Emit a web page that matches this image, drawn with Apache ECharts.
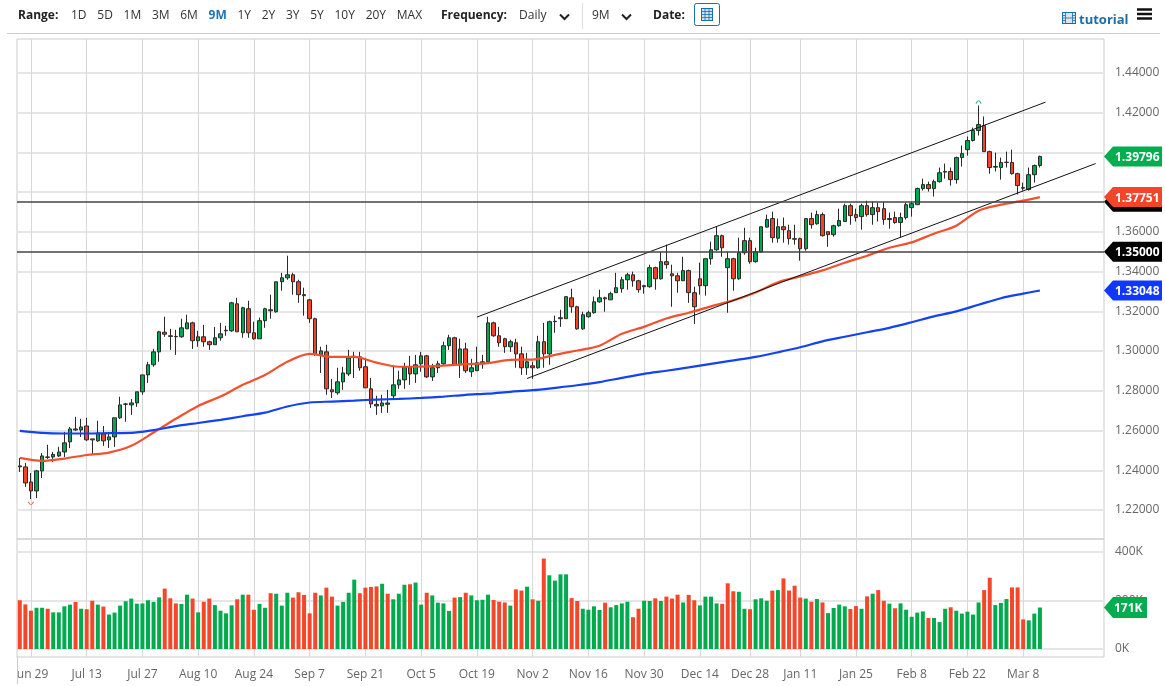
<!DOCTYPE html>
<html>
<head>
<meta charset="utf-8">
<title>Daily chart</title>
<script src="https://cdn.jsdelivr.net/npm/echarts@6/dist/echarts.min.js"></script>
<style>
  html, body { margin: 0; padding: 0; background: #fff; }
  #chart { position: absolute; left: 0; top: 0; width: 1165px; height: 686px; }
  .bar { position: absolute; left: 0; top: 0; width: 1165px; height: 34px; font: 12px "Open Sans", sans-serif; color: #333; z-index: 2; }
  .bar span, .bar svg, .bar i { position: absolute; }
  .bar b { font-weight: 700; color: #222; }
  .rule { position: absolute; left: 7px; top: 33px; width: 1153px; height: 1px; background: #ccc; }
  .range { position: absolute; left: 71px; top: 6px; display: flex; gap: 10.7px; }
  .range span { position: static; }
  .range .on { color: #1b75bc; font-weight: 700; }
  .sep { left: 582px; top: 3px; width: 1px; height: 26px; background: #ddd; }
</style>
</head>
<body>
<div class="bar">
  <span style="left:18px;top:6px"><b>Range:</b></span>
  <div class="range" id="ranges"></div>
  <span style="left:441px;top:6px"><b>Frequency:</b></span>
  <span style="left:519px;top:6px">Daily</span>
  <svg style="left:559px;top:13px" width="11" height="8"><path d="M1 1.5 L5.5 6 L10 1.5" fill="none" stroke="#222" stroke-width="2"/></svg>
  <i class="sep"></i>
  <span style="left:592px;top:6px">9M</span>
  <svg style="left:621px;top:13px" width="11" height="8"><path d="M1 1.5 L5.5 6 L10 1.5" fill="none" stroke="#222" stroke-width="2"/></svg>
  <span style="left:653px;top:6px"><b>Date:</b></span>
  <svg style="left:694px;top:3px" width="26" height="23">
    <rect x="0.5" y="0.5" width="25" height="22" rx="2" fill="#fff" stroke="#1b6ea8"/>
    <rect x="7.5" y="5.5" width="11" height="12" fill="#cfe2f0" stroke="#1b6ea8"/>
    <path d="M7.5 8.5 H18.5 M7.5 11.5 H18.5 M7.5 14.5 H18.5 M11 5.5 V17.5 M15 5.5 V17.5" stroke="#1b6ea8" stroke-width="0.8"/>
  </svg>
  <svg style="left:1062px;top:12px" width="14" height="12">
    <rect x="0.5" y="0.5" width="13" height="11" fill="#d7e6f2" stroke="#1b6ea8"/>
    <path d="M3.5 0.5 V11.5 M10.5 0.5 V11.5 M3.5 6 H10.5 M0.5 3.5 H3.5 M0.5 6 H3.5 M0.5 8.5 H3.5 M10.5 3.5 H13.5 M10.5 6 H13.5 M10.5 8.5 H13.5" stroke="#1b6ea8" stroke-width="0.8"/>
  </svg>
  <span style="left:1079px;top:10px;color:#1b6ea8;font-weight:700;font-size:13px">tutorial</span>
  <svg style="left:1137px;top:8px" width="15" height="12"><path d="M0 1.5 H15 M0 6 H15 M0 10.5 H15" stroke="#111" stroke-width="2.6"/></svg>
  <div class="rule"></div>
</div>
<div id="chart"></div>
<script>
const rangeLabels = ['1D', '5D', '1M', '3M', '6M', '9M', '1Y', '2Y', '3Y', '5Y', '10Y', '20Y', 'MAX']
const activeRange = '9M'

// trading days, the empty ones are the space right of the last candle
const categories = [
  'Jun 25', 'Jun 26', 'Jun 29', 'Jun 30', 'Jul 1', 'Jul 2', 'Jul 3', 'Jul 6', 'Jul 7', 'Jul 8', 'Jul 9', 'Jul 10',
  'Jul 13', 'Jul 14', 'Jul 15', 'Jul 16', 'Jul 17', 'Jul 20', 'Jul 21', 'Jul 22', 'Jul 23', 'Jul 24',
  'Jul 27', 'Jul 28', 'Jul 29', 'Jul 30', 'Jul 31', 'Aug 3', 'Aug 4', 'Aug 5', 'Aug 6', 'Aug 7',
  'Aug 10', 'Aug 11', 'Aug 12', 'Aug 13', 'Aug 14', 'Aug 17', 'Aug 18', 'Aug 19', 'Aug 20', 'Aug 21',
  'Aug 24', 'Aug 25', 'Aug 26', 'Aug 27', 'Aug 28', 'Aug 31', 'Sep 1', 'Sep 2', 'Sep 3', 'Sep 4',
  'Sep 7', 'Sep 8', 'Sep 9', 'Sep 10', 'Sep 11', 'Sep 14', 'Sep 15', 'Sep 16', 'Sep 17', 'Sep 18',
  'Sep 21', 'Sep 22', 'Sep 23', 'Sep 24', 'Sep 25', 'Sep 28', 'Sep 29', 'Sep 30', 'Oct 1', 'Oct 2',
  'Oct 5', 'Oct 6', 'Oct 7', 'Oct 8', 'Oct 9', 'Oct 12', 'Oct 13', 'Oct 14', 'Oct 15', 'Oct 16',
  'Oct 19', 'Oct 20', 'Oct 21', 'Oct 22', 'Oct 23', 'Oct 26', 'Oct 27', 'Oct 28', 'Oct 29', 'Oct 30',
  'Nov 2', 'Nov 3', 'Nov 4', 'Nov 5', 'Nov 6', 'Nov 9', 'Nov 10', 'Nov 11', 'Nov 12', 'Nov 13',
  'Nov 16', 'Nov 17', 'Nov 18', 'Nov 19', 'Nov 20', 'Nov 23', 'Nov 24', 'Nov 25', 'Nov 26', 'Nov 27',
  'Nov 30', 'Dec 1', 'Dec 2', 'Dec 3', 'Dec 4', 'Dec 7', 'Dec 8', 'Dec 9', 'Dec 10', 'Dec 11',
  'Dec 14', 'Dec 15', 'Dec 16', 'Dec 17', 'Dec 18', 'Dec 21', 'Dec 22', 'Dec 23', 'Dec 24',
  'Dec 28', 'Dec 29', 'Dec 30', 'Dec 31', 'Jan 4', 'Jan 5', 'Jan 6', 'Jan 7', 'Jan 8',
  'Jan 11', 'Jan 12', 'Jan 13', 'Jan 14', 'Jan 15', 'Jan 18', 'Jan 19', 'Jan 20', 'Jan 21', 'Jan 22',
  'Jan 25', 'Jan 26', 'Jan 27', 'Jan 28', 'Jan 29', 'Feb 1', 'Feb 2', 'Feb 3', 'Feb 4', 'Feb 5',
  'Feb 8', 'Feb 9', 'Feb 10', 'Feb 11', 'Feb 12', 'Feb 15', 'Feb 16', 'Feb 17', 'Feb 18', 'Feb 19',
  'Feb 22', 'Feb 23', 'Feb 24', 'Feb 25', 'Feb 26', 'Mar 1', 'Mar 2', 'Mar 3', 'Mar 4', 'Mar 5',
  'Mar 8', 'Mar 9', 'Mar 10', 'Mar 11',
  '', '', '', '', '', '', '', '', '', '', ''
]
const dateTicks = ['Jun 29', 'Jul 13', 'Jul 27', 'Aug 10', 'Aug 24', 'Sep 7', 'Sep 21', 'Oct 5', 'Oct 19', 'Nov 2',
  'Nov 16', 'Nov 30', 'Dec 14', 'Dec 28', 'Jan 11', 'Jan 25', 'Feb 8', 'Feb 22', 'Mar 8']

const opens = [
  1.2422, 1.2417, 1.2341, 1.2296, 1.2397, 1.2467, 1.2467, 1.2472, 1.2492, 1.2543,
  1.2608, 1.2603, 1.2623, 1.2558, 1.2548, 1.2583, 1.2553, 1.2568, 1.2664, 1.2732,
  1.2729, 1.2739, 1.2795, 1.2880, 1.2931, 1.2996, 1.3095, 1.3077, 1.3074, 1.3072,
  1.3112, 1.3142, 1.3052, 1.3072, 1.3047, 1.3032, 1.3067, 1.3102, 1.3102, 1.3238,
  1.3092, 1.3213, 1.3092, 1.3062, 1.3153, 1.3208, 1.3198, 1.3349, 1.3369, 1.3384,
  1.3349, 1.3284, 1.3258, 1.3163, 1.2981, 1.2996, 1.2805, 1.2790, 1.2845, 1.2885,
  1.2971, 1.2971, 1.2921, 1.2810, 1.2732, 1.2724, 1.2732, 1.2775, 1.2830, 1.2855,
  1.2921, 1.2885, 1.2936, 1.2976, 1.2870, 1.2916, 1.2936, 1.3027, 1.3067, 1.2931,
  1.3011, 1.2896, 1.2901, 1.2936, 1.2946, 1.3142, 1.3077, 1.3062, 1.3022, 1.3042,
  1.2986, 1.2916, 1.2926, 1.2916, 1.3047, 1.2986, 1.3148, 1.3163, 1.3163, 1.3268,
  1.3223, 1.3112, 1.3173, 1.3193, 1.3248, 1.3268, 1.3258, 1.3294, 1.3314, 1.3359,
  1.3384, 1.3354, 1.3329, 1.3324, 1.3420, 1.3364, 1.3450, 1.3389, 1.3379, 1.3354,
  1.3405, 1.3294, 1.3364, 1.3329, 1.3465, 1.3510, 1.3581, 1.3420, 1.3465, 1.3364,
  1.3495, 1.3556, 1.3450, 1.3500, 1.3624, 1.3667, 1.3568, 1.3626, 1.3606, 1.3566,
  1.3566, 1.3515, 1.3667, 1.3641, 1.3687, 1.3601, 1.3586, 1.3631, 1.3652, 1.3732,
  1.3687, 1.3677, 1.3732, 1.3687, 1.3722, 1.3717, 1.3662, 1.3672, 1.3647, 1.3672,
  1.3722, 1.3737, 1.3818, 1.3838, 1.3818, 1.3853, 1.3901, 1.3904, 1.3863, 1.3974,
  1.4014, 1.4060, 1.4110, 1.4135, 1.4004, 1.3926, 1.3924, 1.3949, 1.3949, 1.3893,
  1.3823, 1.3813, 1.3888, 1.3934
]
const closes = [
  1.2417, 1.2336, 1.2296, 1.2397, 1.2472, 1.2465, 1.2480, 1.2492, 1.2538, 1.2608,
  1.2603, 1.2618, 1.2553, 1.2553, 1.2588, 1.2548, 1.2568, 1.2664, 1.2729, 1.2734,
  1.2739, 1.2795, 1.2880, 1.2931, 1.2996, 1.3097, 1.3085, 1.3074, 1.3072, 1.3117,
  1.3142, 1.3052, 1.3072, 1.3047, 1.3032, 1.3067, 1.3087, 1.3105, 1.3243, 1.3097,
  1.3218, 1.3092, 1.3062, 1.3153, 1.3213, 1.3203, 1.3349, 1.3369, 1.3384, 1.3349,
  1.3284, 1.3279, 1.3163, 1.2986, 1.3001, 1.2810, 1.2795, 1.2845, 1.2890, 1.2966,
  1.2974, 1.2916, 1.2815, 1.2734, 1.2724, 1.2739, 1.2739, 1.2830, 1.2855, 1.2921,
  1.2885, 1.2931, 1.2976, 1.2870, 1.2916, 1.2936, 1.3027, 1.3067, 1.2931, 1.3011,
  1.2901, 1.2916, 1.2941, 1.2946, 1.3142, 1.3077, 1.3042, 1.3022, 1.3047, 1.2986,
  1.2916, 1.2946, 1.2916, 1.3047, 1.2986, 1.3148, 1.3150, 1.3168, 1.3274, 1.3223,
  1.3112, 1.3183, 1.3193, 1.3248, 1.3268, 1.3263, 1.3289, 1.3319, 1.3359, 1.3384,
  1.3354, 1.3309, 1.3324, 1.3420, 1.3364, 1.3450, 1.3435, 1.3379, 1.3354, 1.3405,
  1.3294, 1.3223, 1.3329, 1.3465, 1.3510, 1.3581, 1.3520, 1.3465, 1.3364, 1.3495,
  1.3556, 1.3450, 1.3500, 1.3626, 1.3662, 1.3571, 1.3626, 1.3611, 1.3566, 1.3563,
  1.3515, 1.3667, 1.3636, 1.3687, 1.3581, 1.3586, 1.3631, 1.3657, 1.3732, 1.3682,
  1.3672, 1.3732, 1.3687, 1.3722, 1.3702, 1.3662, 1.3667, 1.3647, 1.3672, 1.3737,
  1.3742, 1.3818, 1.3838, 1.3818, 1.3853, 1.3898, 1.3904, 1.3863, 1.3974, 1.3994,
  1.4060, 1.4110, 1.4140, 1.4004, 1.3924, 1.3929, 1.3949, 1.3951, 1.3893, 1.3833,
  1.3820, 1.3888, 1.3934, 1.39796
]
const highs = [
  1.2462, 1.2437, 1.2386, 1.2402, 1.2487, 1.2528, 1.2492, 1.2518, 1.2593, 1.2618,
  1.2669, 1.2659, 1.2664, 1.2558, 1.2649, 1.2623, 1.2588, 1.2664, 1.2770, 1.2739,
  1.2759, 1.2795, 1.2880, 1.2946, 1.3011, 1.3102, 1.3173, 1.3112, 1.3107, 1.3163,
  1.3183, 1.3148, 1.3102, 1.3132, 1.3052, 1.3122, 1.3142, 1.3127, 1.3248, 1.3268,
  1.3223, 1.3253, 1.3148, 1.3168, 1.3218, 1.3284, 1.3349, 1.3394, 1.3480, 1.3394,
  1.3359, 1.3319, 1.3263, 1.3168, 1.3022, 1.3032, 1.2860, 1.2916, 1.2921, 1.3006,
  1.2996, 1.2996, 1.2966, 1.2865, 1.2775, 1.2780, 1.2805, 1.2926, 1.2901, 1.2941,
  1.2976, 1.2981, 1.2996, 1.2981, 1.2936, 1.2951, 1.3047, 1.3082, 1.3072, 1.3062,
  1.3042, 1.2961, 1.3022, 1.2981, 1.3173, 1.3148, 1.3122, 1.3067, 1.3057, 1.3062,
  1.3022, 1.2991, 1.2946, 1.3077, 1.3142, 1.3153, 1.3178, 1.3208, 1.3274, 1.3314,
  1.3228, 1.3198, 1.3203, 1.3274, 1.3309, 1.3274, 1.3299, 1.3394, 1.3374, 1.3394,
  1.3400, 1.3359, 1.3334, 1.3435, 1.3425, 1.3500, 1.3536, 1.3435, 1.3394, 1.3475,
  1.3410, 1.3324, 1.3445, 1.3465, 1.3551, 1.3626, 1.3586, 1.3500, 1.3470, 1.3571,
  1.3621, 1.3571, 1.3520, 1.3626, 1.3687, 1.3702, 1.3667, 1.3672, 1.3636, 1.3636,
  1.3571, 1.3667, 1.3697, 1.3707, 1.3697, 1.3601, 1.3636, 1.3717, 1.3742, 1.3742,
  1.3717, 1.3742, 1.3757, 1.3752, 1.3747, 1.3752, 1.3697, 1.3702, 1.3697, 1.3747,
  1.3752, 1.3823, 1.3868, 1.3853, 1.3863, 1.3924, 1.3944, 1.3924, 1.3979, 1.4035,
  1.4080, 1.4125, 1.4236, 1.4181, 1.4009, 1.3999, 1.3974, 1.4004, 1.4014, 1.3898,
  1.3848, 1.3924, 1.3939, 1.3984
]
const lows = [
  1.2392, 1.2316, 1.2255, 1.2260, 1.2361, 1.2457, 1.2442, 1.2467, 1.2467, 1.2512,
  1.2598, 1.2568, 1.2548, 1.2482, 1.2543, 1.2523, 1.2512, 1.2518, 1.2659, 1.2644,
  1.2679, 1.2719, 1.2780, 1.2840, 1.2921, 1.2946, 1.3072, 1.3006, 1.2981, 1.3067,
  1.3112, 1.3011, 1.3022, 1.3022, 1.3006, 1.3032, 1.3052, 1.3077, 1.3097, 1.3097,
  1.3067, 1.3067, 1.3057, 1.3062, 1.3117, 1.3163, 1.3193, 1.3304, 1.3359, 1.3284,
  1.3243, 1.3178, 1.3142, 1.2976, 1.2890, 1.2780, 1.2764, 1.2780, 1.2805, 1.2875,
  1.2865, 1.2901, 1.2815, 1.2714, 1.2679, 1.2689, 1.2689, 1.2754, 1.2810, 1.2810,
  1.2830, 1.2840, 1.2896, 1.2865, 1.2850, 1.2890, 1.2926, 1.3006, 1.2926, 1.2865,
  1.2890, 1.2870, 1.2901, 1.2911, 1.2941, 1.3072, 1.3022, 1.2991, 1.2996, 1.2916,
  1.2880, 1.2880, 1.2860, 1.2911, 1.2916, 1.2931, 1.3092, 1.3122, 1.3163, 1.3193,
  1.3107, 1.3107, 1.3168, 1.3188, 1.3243, 1.3198, 1.3258, 1.3294, 1.3294, 1.3309,
  1.3324, 1.3294, 1.3289, 1.3319, 1.3309, 1.3359, 1.3415, 1.3223, 1.3294, 1.3354,
  1.3243, 1.3137, 1.3284, 1.3279, 1.3435, 1.3505, 1.3475, 1.3193, 1.3304, 1.3359,
  1.3485, 1.3440, 1.3445, 1.3495, 1.3621, 1.3546, 1.3546, 1.3546, 1.3536, 1.3536,
  1.3455, 1.3505, 1.3616, 1.3636, 1.3576, 1.3525, 1.3576, 1.3626, 1.3652, 1.3636,
  1.3652, 1.3611, 1.3677, 1.3636, 1.3652, 1.3636, 1.3616, 1.3641, 1.3571, 1.3662,
  1.3677, 1.3737, 1.3808, 1.3803, 1.3778, 1.3848, 1.3868, 1.3833, 1.3843, 1.3929,
  1.3984, 1.4055, 1.4085, 1.4004, 1.3893, 1.3904, 1.3863, 1.3924, 1.3888, 1.3788,
  1.3808, 1.3808, 1.3848, 1.3924
]

// volume in thousands
const volumes = [
  201, 184, 158, 170, 170, 166, 151, 151, 176, 183,
  194, 166, 164, 199, 183, 175, 142, 150, 179, 197,
  208, 187, 188, 201, 194, 213, 249, 209, 188, 186,
  224, 208, 151, 195, 208, 181, 158, 147, 180, 205,
  224, 224, 162, 186, 170, 230, 228, 179, 232, 212,
  234, 223, 147, 232, 221, 253, 216, 179, 194, 232,
  286, 230, 253, 256, 258, 269, 228, 205, 228, 265,
  267, 274, 183, 232, 221, 191, 188, 157, 212, 214,
  232, 221, 201, 203, 224, 202, 195, 192, 179, 246,
  241, 257, 205, 199, 373, 304, 282, 308, 308, 210,
  198, 166, 162, 176, 161, 191, 172, 181, 188, 195,
  131, 166, 199, 198, 209, 198, 216, 208, 224, 192,
  223, 201, 180, 216, 216, 188, 186, 271, 238, 236,
  166, 164, 205, 209, 199, 241, 243, 291, 241, 261,
  212, 208, 195, 206, 192, 148, 169, 183, 176, 165,
  177, 166, 217, 228, 243, 199, 187, 168, 188, 162,
  133, 150, 155, 128, 128, 111, 166, 172, 158, 146,
  154, 142, 192, 243, 294, 181, 190, 206, 254, 254,
  122, 118, 146, 171
]
// bars drawn red in the volume panel
const volumeDownDays = [0, 1, 2, 5, 10, 12, 13, 15, 26, 27, 28, 31, 33, 34, 39, 41, 42, 45, 49, 50, 51, 52, 53, 55, 56,
  61, 62, 63, 64, 66, 70, 73, 78, 80, 85, 86, 87, 89, 90, 92, 94, 99, 100, 105, 110, 111, 114, 116, 117, 118, 120, 121,
  126, 127, 128, 131, 135, 137, 138, 139, 140, 142, 144, 149, 150, 152, 154, 155, 157, 163, 167, 173, 174, 178, 179, 180]

const maDays = [0, 4, 8, 12, 16, 20, 24, 28, 32, 36, 40, 44, 48, 52, 56, 60, 64, 68, 72, 76, 80, 84, 88, 92, 96, 100,
  104, 108, 112, 116, 120, 124, 128, 132, 136, 140, 144, 148, 152, 156, 160, 164, 168, 172, 176, 180, 183]
const maFast = [
  1.2462, 1.2447, 1.2459, 1.2477, 1.2489, 1.2523, 1.2590, 1.2659, 1.2724, 1.2771,
  1.2830, 1.2880, 1.2946, 1.2986, 1.2971, 1.2971, 1.2942, 1.2921, 1.2922, 1.2927,
  1.2934, 1.2939, 1.2956, 1.2957, 1.2981, 1.3003, 1.3027, 1.3087, 1.3122, 1.3164,
  1.3193, 1.3225, 1.3255, 1.3295, 1.3346, 1.3376, 1.3406, 1.3445, 1.3480, 1.3520,
  1.3547, 1.3591, 1.3631, 1.3707, 1.3737, 1.3757, 1.37751
]
const maSlow = [
  1.2598, 1.2588, 1.2585, 1.2585, 1.2587, 1.2588, 1.2602, 1.2622, 1.2638, 1.2654,
  1.2672, 1.2690, 1.2721, 1.2741, 1.2746, 1.2751, 1.2756, 1.2759, 1.2764, 1.2771,
  1.2780, 1.2786, 1.2795, 1.2803, 1.2815, 1.2828, 1.2844, 1.2865, 1.2885, 1.2901,
  1.2918, 1.2936, 1.2953, 1.2971, 1.2994, 1.3019, 1.3049, 1.3072, 1.3095, 1.3117,
  1.3145, 1.3175, 1.3200, 1.3233, 1.3266, 1.3289, 1.33048
]

// channel drawn by hand on the chart: [session, price]
const channelUpper = [[82, 1.3171], [184, 1.4253]]
const channelLower = [[91, 1.2862], [193, 1.3944]]
const levels = [1.3752, 1.35]
const extremeHigh = [172, 1.4253]
const extremeLow = [2, 1.2234]

const priceTicks = [1.22, 1.24, 1.26, 1.28, 1.30, 1.32, 1.34, 1.36, 1.38, 1.40, 1.42, 1.44]
const volumeTicks = [0, 200, 400]

const priceTagValues = [1.3752, 1.35, 1.37751, 1.39796, 1.33048]
const priceTagColors = ['#000000', '#000000', '#f2452a', '#00ae50', '#0f37ff']
const priceTagTexts = ['', '1.35000', '1.37751', '1.39796', '1.33048']
const lastVolume = 171

const GREEN = '#00a650'
const RED = '#ee4427'
const FONT = '"Open Sans", sans-serif'

document.getElementById('ranges').innerHTML = rangeLabels
  .map(r => '<span' + (r === activeRange ? ' class="on"' : '') + '>' + r + '</span>').join('')

function isDateTick(index) {
  return dateTicks.includes(categories[index])
}

// pointed price tag on the right of a panel
function renderTag(params, api, colors, texts, w, h, textX) {
  const y = api.coord([0, api.value(1)])[1]
  const tip = params.coordSys.x + params.coordSys.width
  const i = params.dataIndex
  return {
    type: 'group',
    children: [
      {
        type: 'polygon',
        shape: { points: [[tip, y], [tip + 9, y - h / 2], [tip + w, y - h / 2], [tip + w, y + h / 2], [tip + 9, y + h / 2]] },
        style: { fill: colors[i] },
      },
      {
        type: 'text',
        style: { x: tip + textX, y: y + 1, text: texts[i], fill: '#fff', font: 'bold 12px ' + FONT, textVerticalAlign: 'middle' },
      },
    ],
  }
}

function xAxisBase(gridIndex, showLabel) {
  return {
    type: 'category',
    gridIndex,
    data: categories,
    boundaryGap: true,
    axisLine: { show: false },
    axisTick: { show: false },
    splitLine: { show: true, alignWithLabel: true, interval: isDateTick, lineStyle: { color: '#d8d8d8', width: 1 } },
    axisLabel: { show: showLabel, interval: isDateTick, color: '#666', fontFamily: FONT, fontSize: 12, margin: 12 },
  }
}

const chart = echarts.init(document.getElementById('chart'))
chart.setOption({
  animation: false,
  grid: [
    { left: 17, top: 39, width: 1087, height: 500, show: true, borderColor: '#ccc', borderWidth: 1 },
    { left: 17, top: 539, width: 1087, height: 118, show: true, borderColor: '#ccc', borderWidth: 1 },
  ],
  xAxis: [xAxisBase(0, false), xAxisBase(1, true)],
  yAxis: [
    {
      type: 'value',
      gridIndex: 0,
      position: 'right',
      min: 1.2054,
      max: 1.4571,
      scale: true,
      axisLine: { show: false },
      axisTick: { show: false, customValues: priceTicks },
      splitLine: { show: true, lineStyle: { color: '#e6e6e6', width: 2 } },
      axisLabel: {
        customValues: priceTicks,
        formatter: v => v.toFixed(5),
        color: '#666',
        fontFamily: FONT,
        fontSize: 12,
        margin: 11,
        padding: [4, 0, 0, 0],
      },
    },
    {
      type: 'value',
      gridIndex: 1,
      position: 'right',
      min: -33,
      max: 453.6,
      axisLine: { show: false },
      axisTick: { show: false, customValues: volumeTicks },
      splitLine: { show: true, lineStyle: { color: '#e6e6e6', width: 2 } },
      axisLabel: {
        customValues: volumeTicks,
        formatter: v => v + 'K',
        color: '#666',
        fontFamily: FONT,
        fontSize: 12,
        margin: 11,
        padding: [4, 0, 0, 0],
      },
    },
  ],
  series: [
    {
      type: 'candlestick',
      xAxisIndex: 0,
      yAxisIndex: 0,
      barWidth: 4,
      data: opens.map((o, i) => [o, closes[i], lows[i], highs[i]]),
      itemStyle: { color: GREEN, color0: RED, borderColor: '#2a2a2a', borderColor0: '#2a2a2a', borderWidth: 1 },
      markLine: {
        silent: true,
        symbol: 'none',
        precision: 4,
        label: { show: false },
        lineStyle: { color: '#444', type: 'solid', width: 1.5 },
        data: levels.map(v => ({ yAxis: v })),
      },
    },
    {
      type: 'line',
      name: 'fast ma',
      data: maDays.map((d, i) => [d, maFast[i]]),
      smooth: 0.3,
      showSymbol: false,
      lineStyle: { color: '#f2502e', width: 2.2 },
    },
    {
      type: 'line',
      name: 'slow ma',
      data: maDays.map((d, i) => [d, maSlow[i]]),
      smooth: 0.3,
      showSymbol: false,
      lineStyle: { color: '#1243f0', width: 2.2 },
    },
    {
      type: 'line',
      data: channelUpper,
      showSymbol: false,
      lineStyle: { color: '#111', width: 1 },
    },
    {
      type: 'line',
      data: channelLower,
      showSymbol: false,
      lineStyle: { color: '#111', width: 1 },
    },
    {
      type: 'scatter',
      data: [extremeHigh],
      symbol: 'path://M0 6 Q4 -2 8 6',
      symbolSize: [5, 3],
      itemStyle: { color: 'none', borderColor: GREEN, borderWidth: 1 },
    },
    {
      type: 'scatter',
      data: [extremeLow],
      symbol: 'path://M0 0 Q4 8 8 0',
      symbolSize: [5, 3],
      itemStyle: { color: 'none', borderColor: RED, borderWidth: 1 },
    },
    {
      type: 'custom',
      xAxisIndex: 0,
      yAxisIndex: 0,
      z: 10,
      data: priceTagValues.map(v => [0, v]),
      renderItem: (params, api) => renderTag(params, api, priceTagColors, priceTagTexts, 58, 20, 11),
    },
    {
      type: 'bar',
      xAxisIndex: 1,
      yAxisIndex: 1,
      barWidth: 4,
      data: volumes,
      itemStyle: { color: p => (volumeDownDays.includes(p.dataIndex) ? '#f4472a' : '#00ab4e') },
    },
    {
      type: 'custom',
      xAxisIndex: 1,
      yAxisIndex: 1,
      z: 10,
      data: [[0, lastVolume]],
      renderItem: (params, api) => renderTag(params, api, ['#00ae50'], [lastVolume + 'K'], 43, 21, 10),
    },
  ],
  graphic: [
    // the first date label is cut by the chart's left edge
    { type: 'rect', z: 100, shape: { x: 0, y: 658, width: 17, height: 28 }, style: { fill: '#fff' } },
    { type: 'line', z: 100, shape: { x1: 17.5, y1: 657, x2: 17.5, y2: 684 }, style: { stroke: '#ccc', lineWidth: 1 } },
  ],
})
</script>
</body>
</html>
